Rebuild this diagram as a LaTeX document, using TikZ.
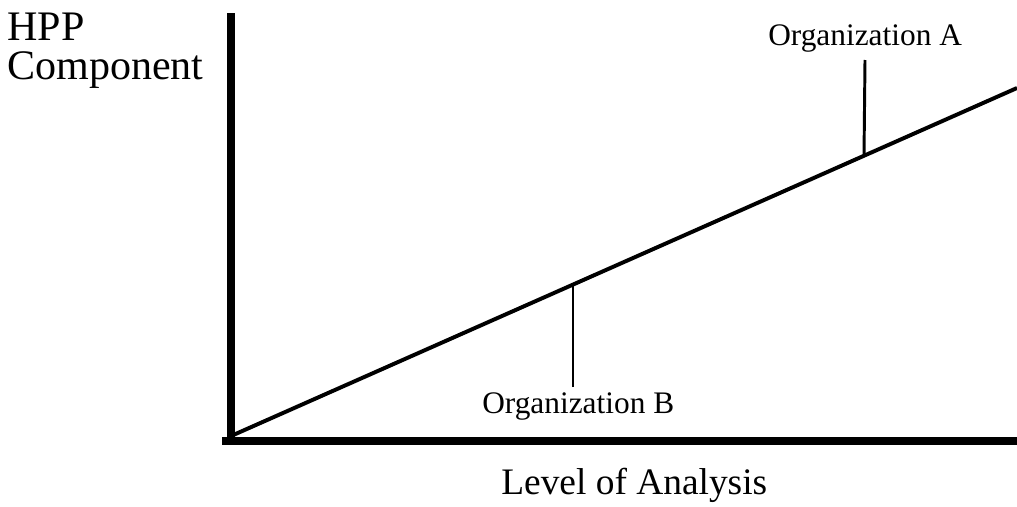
\documentclass[tikz,border=0pt]{standalone}
\usepackage{fontspec}
\setmainfont{Liberation Serif}

\begin{document}
\begin{tikzpicture}[x=0.025cm,y=-0.025cm]
	\tikzset{axislab/.style={inner sep=0,anchor=base west,font=\fontsize{29.9}{27.7}\selectfont},
		orglab/.style={inner sep=0,anchor=base west,font=\fontsize{22.3}{26}\selectfont}}
	\useasboundingbox (0,0) rectangle (1017,506);
	\coordinate (top) at (231,13);
	\coordinate (orig) at (231,441);
	\coordinate (right) at (1017,441);
	\coordinate (start) at (231,436);
	\coordinate (end) at (1017,88);
	\draw[line width=5.7pt] (top)--(orig);
	\draw[line width=5pt] (222,441)--(right);
	\draw[line width=2.8pt] (start)--(end);
	\node[axislab] (hpp) at (7,40.7){HPP};
	\node[axislab] (comp) at (7,79){Component};
	\node[axislab,font=\fontsize{26.6}{30}\selectfont] (level) at (501,494){Level of Analysis};
	\node[orglab] (orga) at (768,45.5){Organization A};
	\node[orglab] (orgb) at (482,413){Organization B};
	\coordinate (ta) at (865,60);\coordinate (tb) at (573,387);
	\draw[line width=2.1pt] (ta)--(864,155.6);
	\draw[line width=2.1pt] (tb)--(573,284);
	\end{tikzpicture}
\end{document}
